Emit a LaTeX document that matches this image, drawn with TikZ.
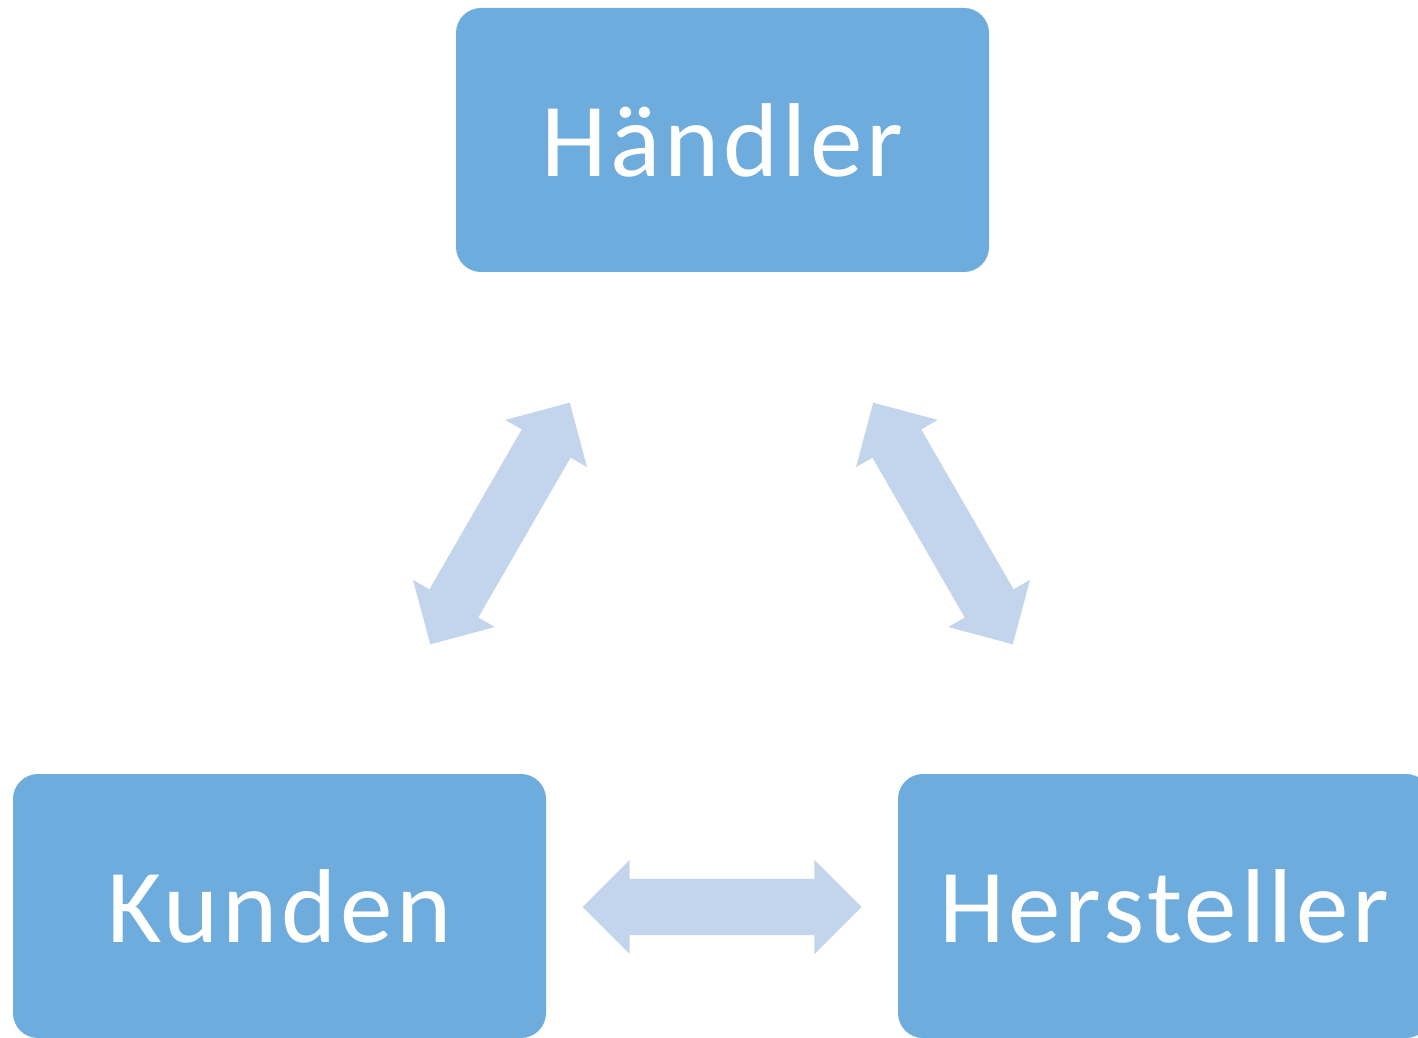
\documentclass[tikz,border=0pt]{standalone}
\usepackage{fontspec}
\setmainfont{Carlito}[LetterSpace=3.6]
\usetikzlibrary{shapes.arrows}
\definecolor{boxblue}{HTML}{6DACDC}
\definecolor{arrowblue}{HTML}{C3D5EC}
\begin{document}
\begin{tikzpicture}[x=1pt,y=1pt,
	partner/.style={fill=boxblue,draw=none,rounded corners=25pt,
		minimum width=533pt,minimum height=264pt,inner sep=0pt,
		text=white,font=\fontsize{105}{110}\selectfont},
	flow/.style={double arrow,fill=arrowblue,draw=none,inner xsep=0pt,inner ysep=28pt,
		minimum height=279pt,double arrow head extend=19pt}]
	\clip (0,0) rectangle (1418,1037);
	\node[partner] (haendler) at (722.5,897) {Händler};
	\node[partner] (kunden) at (279.5,131) {Kunden};
	\node[partner] (hersteller) at (1164.5,131) {Hersteller};
	\node[flow] (kh) at (722,130) {};
	\node[flow,rotate=60] (kha) at (500,513.5) {};
	\node[flow,rotate=-60] (hah) at (943,513.5) {};
\end{tikzpicture}
\end{document}
